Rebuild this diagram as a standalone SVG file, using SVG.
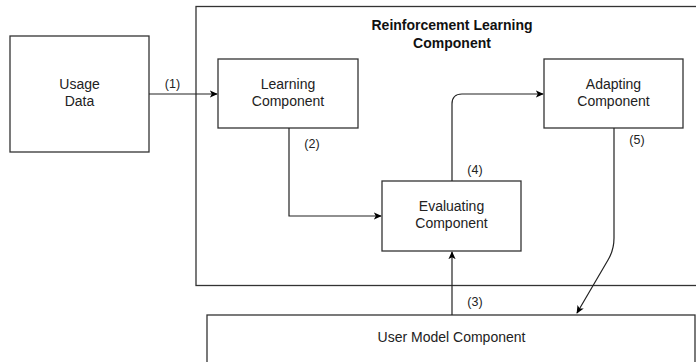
<svg xmlns="http://www.w3.org/2000/svg" width="696" height="362" viewBox="0 0 696 362">
  <defs>
    <marker id="arrow" viewBox="0 0 10 10" refX="9" refY="5" markerWidth="8" markerHeight="8" markerUnits="userSpaceOnUse" orient="auto">
      <path d="M0,0.5 L10,5 L0,9.5 L2.5,5 Z" fill="#000"/>
    </marker>
  </defs>
  <style>
    .box { fill: #fff; stroke: #333; stroke-width: 1.3; }
    .lbl { font-family: "Liberation Sans", Arial, sans-serif; font-size: 14px; fill: #222; text-anchor: middle; }
    .num { font-family: "Liberation Sans", Arial, sans-serif; font-size: 12.5px; fill: #222; text-anchor: middle; }
    .ttl { font-family: "Liberation Sans", Arial, sans-serif; font-size: 14px; font-weight: bold; fill: #111; text-anchor: middle; }
    .edge { fill: none; stroke: #222; stroke-width: 1.2; marker-end: url(#arrow); }
  </style>
  <rect width="696" height="362" fill="#fff"/>

  <!-- outer reinforcement learning container -->
  <g id="rl-container">
    <rect class="box" x="196" y="6.5" width="510" height="279" stroke-width="1.5"/>
    <text class="ttl" x="452" y="30">Reinforcement Learning</text>
    <text class="ttl" x="452" y="48">Component</text>
  </g>

  <g id="usage-data">
    <rect class="box" x="10" y="36" width="139" height="116"/>
    <text class="lbl" x="79.5" y="89">Usage</text>
    <text class="lbl" x="79.5" y="106">Data</text>
  </g>

  <g id="learning">
    <rect class="box" x="218" y="59" width="140" height="69"/>
    <text class="lbl" x="288" y="89">Learning</text>
    <text class="lbl" x="288" y="106">Component</text>
  </g>

  <g id="adapting">
    <rect class="box" x="544" y="59" width="139" height="69"/>
    <text class="lbl" x="613.5" y="89">Adapting</text>
    <text class="lbl" x="613.5" y="106">Component</text>
  </g>

  <g id="evaluating">
    <rect class="box" x="382" y="181" width="139" height="70"/>
    <text class="lbl" x="451.5" y="211">Evaluating</text>
    <text class="lbl" x="451.5" y="228">Component</text>
  </g>

  <g id="user-model">
    <rect class="box" x="207" y="315" width="488" height="50"/>
    <text class="lbl" x="451.5" y="342">User Model Component</text>
  </g>

  <g id="connectors">
    <path class="edge" d="M149,94 L217,94"/>
    <path class="edge" d="M289,128 L289,216 L381,216"/>
    <path class="edge" d="M452,181 L452,104 Q452,94 462,94 L543,94"/>
    <path class="edge" d="M452,315 L452,252"/>
    <path class="edge" d="M614,128 L614,238 Q614,250 608,260 L577,313"/>
    <text class="num" x="172.5" y="88">(1)</text>
    <text class="num" x="312" y="148">(2)</text>
    <text class="num" x="475" y="174">(4)</text>
    <text class="num" x="475" y="306">(3)</text>
    <text class="num" x="637" y="144">(5)</text>
  </g>
</svg>
